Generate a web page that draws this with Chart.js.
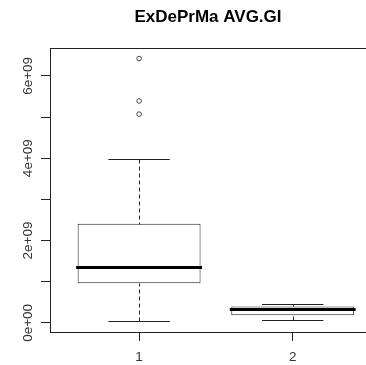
<!DOCTYPE html>
<html>
<head>
<meta charset="utf-8">
<title>ExDePrMa AVG.GI</title>
<script src="https://cdn.jsdelivr.net/npm/chart.js@4.4.1/dist/chart.umd.min.js"></script>
<style>
  html, body { margin: 0; padding: 0; background: #fff; }
  canvas { display: block; }
</style>
</head>
<body>
<canvas id="boxChart" width="366" height="365"></canvas>
<script>
// Box plot summary
const groups = ['1', '2'];
const groupPos = [1, 2];
const lowerWhisker = [0.034e9, 0.058e9];
const lowerQuartile = [0.96e9, 0.187e9];
const medians = [1.355e9, 0.326e9];
const upperQuartile = [2.41e9, 0.40e9];
const upperWhisker = [3.97e9, 0.46e9];
const outliers = [[6.42e9, 5.39e9, 5.07e9], []];

// tick marks every 1e9, but only every other one gets a label (as R did)
const yTicks = [0, 1e9, 2e9, 3e9, 4e9, 5e9, 6e9];
const yTickLabels = ['0e+00', '', '2e+09', '', '4e+09', '', '6e+09'];

const lineColor = '#222';
const boxWidth = 0.8; // share of the spacing between groups (R's boxwex)

Chart.defaults.font.family = '"Liberation Sans", Arial, sans-serif';

// whiskers, staples and medians, drawn through the chart scales
const boxDetails = {
  id: 'boxDetails',
  afterDatasetsDraw(chart) {
    const ctx = chart.ctx;
    const x = chart.scales.x;
    const y = chart.scales.y;
    const py = v => Math.round(y.getPixelForValue(v)) + 0.5;
    ctx.save();
    groupPos.forEach((pos, i) => {
      const cx = Math.round(x.getPixelForValue(pos)) + 0.5;
      ctx.strokeStyle = lineColor;
      ctx.lineWidth = 1;

      ctx.setLineDash([4, 3]);
      ctx.beginPath();
      ctx.moveTo(cx, py(upperWhisker[i]));
      ctx.lineTo(cx, py(upperQuartile[i]));
      ctx.moveTo(cx, py(lowerWhisker[i]));
      ctx.lineTo(cx, py(lowerQuartile[i]));
      ctx.stroke();

      ctx.setLineDash([]);
      const capL = x.getPixelForValue(pos - boxWidth / 4);
      const capR = x.getPixelForValue(pos + boxWidth / 4);
      ctx.beginPath();
      [upperWhisker[i], lowerWhisker[i]].forEach(v => {
        ctx.moveTo(capL, py(v));
        ctx.lineTo(capR, py(v));
      });
      ctx.stroke();

      ctx.strokeStyle = '#000';
      ctx.lineWidth = 3;
      ctx.lineCap = 'square';
      ctx.beginPath();
      ctx.moveTo(x.getPixelForValue(pos - boxWidth / 2), py(medians[i]));
      ctx.lineTo(x.getPixelForValue(pos + boxWidth / 2), py(medians[i]));
      ctx.stroke();
      ctx.lineCap = 'butt';
    });
    ctx.restore();
  }
};

const xMin = 0.42;
const xMax = 2.477;

const tickGrid = {
  display: true,
  drawOnChartArea: false,
  drawTicks: true,
  tickLength: 9,
  color: lineColor,
  offset: false
};

new Chart(document.getElementById('boxChart'), {
  type: 'bar',
  data: {
    datasets: [
      {
        type: 'bar',
        data: groupPos.map((pos, i) => ({ x: pos, y: [lowerQuartile[i], upperQuartile[i]] })),
        backgroundColor: '#fff',
        borderColor: lineColor,
        borderWidth: 1,
        borderSkipped: false,
        categoryPercentage: 1,
        barPercentage: boxWidth
      },
      {
        type: 'scatter',
        data: outliers.flatMap((vals, i) => vals.map(v => ({ x: groupPos[i], y: v }))),
        pointStyle: 'circle',
        pointRadius: 2.3,
        pointBorderWidth: 1,
        pointBorderColor: '#444',
        pointBackgroundColor: 'rgba(0,0,0,0)'
      }
    ]
  },
  options: {
    responsive: false,
    animation: false,
    layout: { padding: 0, autoPadding: false },
    plugins: {
      legend: { display: false },
      tooltip: { enabled: false },
      title: {
        display: true,
        text: 'ExDePrMa AVG.GI',
        fullSize: false,
        color: '#000',
        font: { size: 17, weight: 'bold' },
        padding: { top: 7, bottom: 20.6 }
      }
    },
    scales: {
      x: {
        type: 'linear',
        position: 'bottom',
        min: xMin,
        max: xMax,
        bounds: 'data',
        offset: false,
        grid: tickGrid,
        border: { display: true, color: lineColor, width: 1 },
        afterBuildTicks: s => { s.ticks = groupPos.map(v => ({ value: v })); },
        ticks: {
          autoSkip: false,
          maxRotation: 0,
          padding: 8,
          color: '#333',
          font: { size: 13.5 },
          callback: (v, i) => groups[i]
        },
        afterFit: s => { s.height = 33; }
      },
      xTop: {
        type: 'linear',
        position: 'top',
        min: xMin,
        max: xMax,
        bounds: 'data',
        grid: { display: true, drawOnChartArea: false, drawTicks: false },
        border: { display: true, color: lineColor, width: 1 },
        ticks: { display: false }
      },
      y: {
        type: 'linear',
        min: -0.222e9,
        max: 6.676e9,
        bounds: 'data',
        grid: tickGrid,
        border: { display: true, color: lineColor, width: 1 },
        afterBuildTicks: s => { s.ticks = yTicks.map(v => ({ value: v })); },
        ticks: {
          autoSkip: false,
          minRotation: 90,
          maxRotation: 90,
          crossAlign: 'center',
          padding: -6.5,
          color: '#333',
          font: { size: 13.5 },
          callback: (v, i) => yTickLabels[i]
        },
        afterFit: s => { s.width = 50; }
      }
    }
  },
  plugins: [boxDetails]
});
</script>
</body>
</html>
